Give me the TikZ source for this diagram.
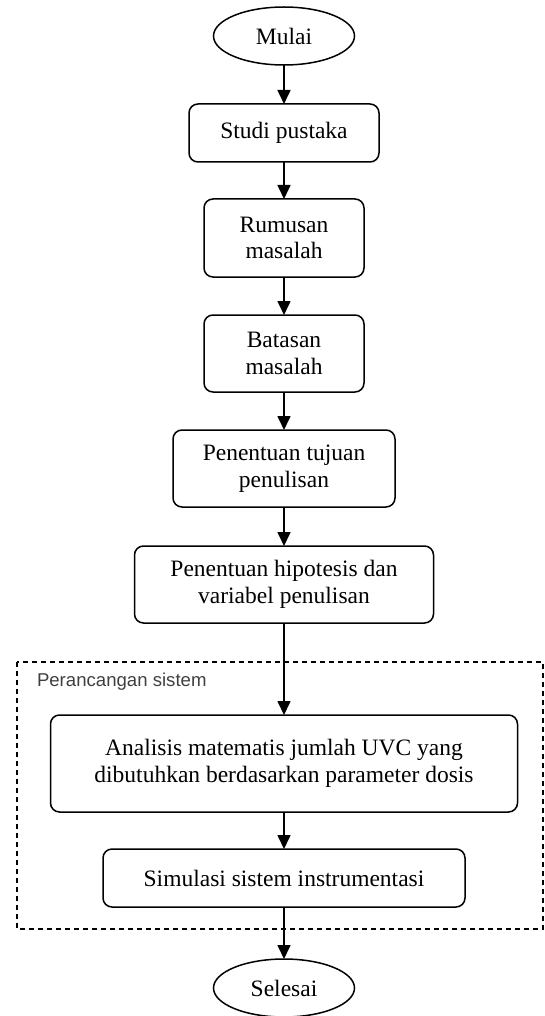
\documentclass[tikz,border=0pt]{standalone}
\usepackage{fontspec}
\setmainfont{Liberation Serif}
\newfontfamily\labelsans{Liberation Sans}
\usetikzlibrary{shapes.geometric,arrows.meta}
\begin{document}
\begin{tikzpicture}[x=1pt,y=-1pt,
  every node/.style={inner sep=0pt,outer sep=0pt},
  txt/.style={font=\fontsize{23.5}{26.7}\selectfont,align=center},
  procbox/.style={txt,draw,line width=1.5pt,rounded corners=9pt},
  termnode/.style={txt,draw,ellipse,line width=1.5pt,minimum width=141pt,minimum height=58pt},
  flow/.style={line width=1.6pt,-{Triangle[width=13pt,length=14pt]}},
  groupbox/.style={draw,line width=1.2pt,dash pattern=on 5pt off 4pt}
]
\useasboundingbox (0,0) rectangle (545,1016);

\node[termnode] (start) at (284,36) {Mulai};
\node[procbox,minimum width=190pt,minimum height=58pt] (studi) at (284,133) {Studi pustaka};
\node[procbox,minimum width=160pt,minimum height=78pt] (rumus) at (284,238) {Rumusan\\masalah};
\node[procbox,minimum width=160pt,minimum height=77pt] (batas) at (284,353.5) {Batasan\\masalah};
\node[procbox,minimum width=222pt,minimum height=77pt] (tujuan) at (284,468.5) {Penentuan tujuan\\penulisan};
\node[procbox,minimum width=299pt,minimum height=77pt] (hipo) at (284,584.5) {Penentuan hipotesis dan\\variabel penulisan};

\draw[groupbox] (17,662) rectangle (543,929);
\node[anchor=west,font=\labelsans\fontsize{18.6}{20}\selectfont,text=black!75] (grouplabel) at (37,682) {Perancangan sistem};

\node[procbox,minimum width=467pt,minimum height=97pt] (analisis) at (284,763.5) {Analisis matematis jumlah UVC yang\\dibutuhkan berdasarkan parameter dosis};
\node[procbox,minimum width=362pt,minimum height=58pt] (simul) at (284,878) {Simulasi sistem instrumentasi};
\node[termnode] (stop) at (284,988) {Selesai};

\draw[flow] (start) -- (studi);
\draw[flow] (studi) -- (rumus);
\draw[flow] (rumus) -- (batas);
\draw[flow] (batas) -- (tujuan);
\draw[flow] (tujuan) -- (hipo);
\draw[flow] (hipo) -- (analisis);
\draw[flow] (analisis) -- (simul);
\draw[flow] (simul) -- (stop);
\end{tikzpicture}
\end{document}
